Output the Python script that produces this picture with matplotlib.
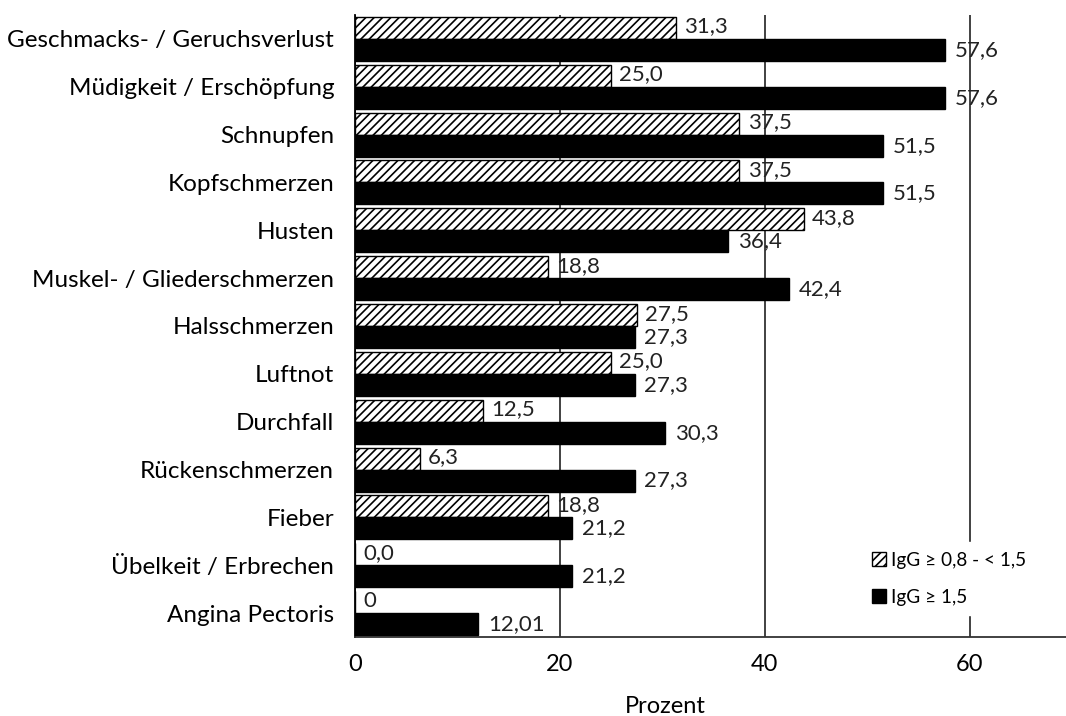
import matplotlib.pyplot as plt
import numpy as np

plt.rcParams['font.family'] = ['Lato', 'DejaVu Sans']
plt.rcParams['hatch.linewidth'] = 1.2

categories = ["Geschmacks- / Geruchsverlust", "Müdigkeit / Erschöpfung", "Schnupfen",
              "Kopfschmerzen", "Husten", "Muskel- / Gliederschmerzen", "Halsschmerzen",
              "Luftnot", "Durchfall", "Rückenschmerzen", "Fieber", "Übelkeit / Erbrechen",
              "Angina Pectoris"]
low = [31.3, 25.0, 37.5, 37.5, 43.8, 18.8, 27.5, 25.0, 12.5, 6.3, 18.8, 0.0, 0]
high = [57.6, 57.6, 51.5, 51.5, 36.4, 42.4, 27.3, 27.3, 30.3, 27.3, 21.2, 21.2, 12.01]
low_labels = ["31,3", "25,0", "37,5", "37,5", "43,8", "18,8", "27,5", "25,0", "12,5",
              "6,3", "18,8", "0,0", "0"]
high_labels = ["57,6", "57,6", "51,5", "51,5", "36,4", "42,4", "27,3", "27,3", "30,3",
               "27,3", "21,2", "21,2", "12,01"]
series_names = ["IgG ≥ 0,8 - < 1,5", "IgG ≥ 1,5"]

fig = plt.figure(figsize=(10.66, 7.16), dpi=100)
ax = fig.add_axes([355 / 1066, 1 - 637 / 716, 1 - 355 / 1066, (637 - 15) / 716])

y = np.arange(len(categories))
h = 0.46
ax.barh(y - h / 2, low, height=h, color='white', edgecolor='black',
        hatch='////', linewidth=1.0, label=series_names[0], zorder=3)
ax.barh(y + h / 2, high, height=h, color='black', edgecolor='black',
        linewidth=1.0, label=series_names[1], zorder=3)

for yy, v, s in zip(y, low, low_labels):
    ax.annotate(s, (v, yy - h / 2), xytext=(6, 1), textcoords='offset points',
                va='center', ha='left', fontsize=16, color='#222222', zorder=5)
for yy, v, s in zip(y, high, high_labels):
    ax.annotate(s, (v, yy + h / 2), xytext=(7, 0), textcoords='offset points',
                va='center', ha='left', fontsize=16, color='#222222', zorder=5)

ax.set_xlim(0, 69.4)
ax.set_ylim(len(categories) - 0.5, -0.5)
ax.set_yticks(y)
ax.set_yticklabels(categories, fontsize=17.5)
ax.set_xticks([0, 20, 40, 60])
ax.tick_params(axis='x', length=0, labelsize=17, pad=12)
ax.tick_params(axis='y', length=0, pad=15)
ax.xaxis.grid(True, color='#333333', linewidth=1.3)
ax.set_axisbelow(True)
for side in ['top', 'right']:
    ax.spines[side].set_visible(False)
ax.spines['left'].set_linewidth(1.3)
ax.spines['bottom'].set_linewidth(1.3)
ax.spines['bottom'].set_color('#333333')

ax.set_xlabel("Prozent", fontsize=17)
ax.xaxis.set_label_coords(0.436, -0.095)

leg = ax.legend(loc='lower left', bbox_to_anchor=(0.70, 0.02), frameon=True,
                fontsize=13.7, handlelength=0.75, handleheight=0.75, handletextpad=0.25,
                labelspacing=1.05, borderpad=0.5)
leg.get_frame().set_edgecolor('white')
leg.get_frame().set_facecolor('white')
leg.get_frame().set_alpha(1)
leg.set_zorder(6)

fig.savefig("out.png", dpi=100)
